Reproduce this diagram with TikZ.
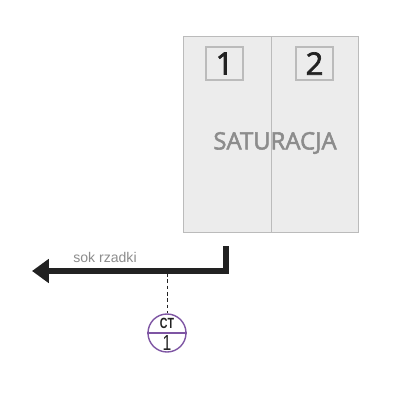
\documentclass[tikz,border=0pt]{standalone}
\usepackage{fontspec}
\setmainfont{Liberation Sans}
\newfontfamily\satfont{Open Sans}[FakeBold=2.2]
\newfontfamily\narrowfont{Liberation Sans}[FakeStretch=0.72]
\usetikzlibrary{arrows.meta, positioning}
\definecolor{panelfill}{HTML}{ECECEC}
\definecolor{panelline}{HTML}{BBBBBB}
\definecolor{labelgrey}{HTML}{8C8C8C}
\definecolor{ctpurple}{HTML}{7E55A3}
\definecolor{flowblack}{HTML}{222222}

\begin{document}
\begin{tikzpicture}[x=0.025cm, y=-0.025cm,
        panel/.style   = {draw=panelline, fill=panelfill, line width=0.7pt, rectangle,
                          minimum width=2.175cm, minimum height=4.875cm, inner sep=0pt},
        numbox/.style  = {draw=panelline, fill=panelfill, line width=0.9pt, rectangle,
                          minimum width=0.925cm, minimum height=0.825cm, inner sep=0pt,
                          font=\satfont\fontsize{22}{22}\selectfont, text=flowblack},
        flow/.style    = {draw=flowblack, line width=4.2pt, line join=miter,
                          -{Triangle[length=0.42cm, width=0.58cm]}},
        sensor/.style  = {draw=ctpurple, line width=1pt, circle, minimum size=0.95cm, inner sep=0pt},
        >=latex]

    % fixed frame of the picture
    \useasboundingbox (0,0) rectangle (400,400);

    % the two panels of the saturation stage
    \node[panel] (satL) at (227.5,134.5) {};
    \node[panel] (satR) at (314.5,134.5) {};
    \node[numbox] (num1) at (224.5,63.5) {1};
    \node[numbox] (num2) at (314.5,63.5) {2};
    \node[text=labelgrey, font=\satfont\fontsize{17}{17}\selectfont] (satlabel) at (275,143) {SATURACJA};

    % outlet of thin juice
    \coordinate (outlet) at (226,246);
    \coordinate (tip) at (32,271);
    \draw[flow] (outlet) |- (tip);
    \node[text=labelgrey, font=\fontsize{10}{10}\selectfont] (juice) at (105,257) {sok rzadki};

    % temperature sensor on the line
    \coordinate (tap) at (167,273);
    \node[sensor] (ct) at (167,333) {};
    \draw[ctpurple, line width=1pt] (ct.west) -- (ct.east);
    \node[font=\narrowfont\bfseries\fontsize{10.5}{10.5}\selectfont, text=flowblack, inner sep=0pt] (ctname) at (167,323.5) {CT};
    \node[font=\narrowfont\fontsize{15.5}{15.5}\selectfont, text=flowblack, inner sep=0pt] (ctnum) at (167,343) {1};
    \draw[flowblack, dashed, line width=0.6pt, dash pattern=on 2.5pt off 2pt] (tap) -- (ct.north);

\end{tikzpicture}
\end{document}
